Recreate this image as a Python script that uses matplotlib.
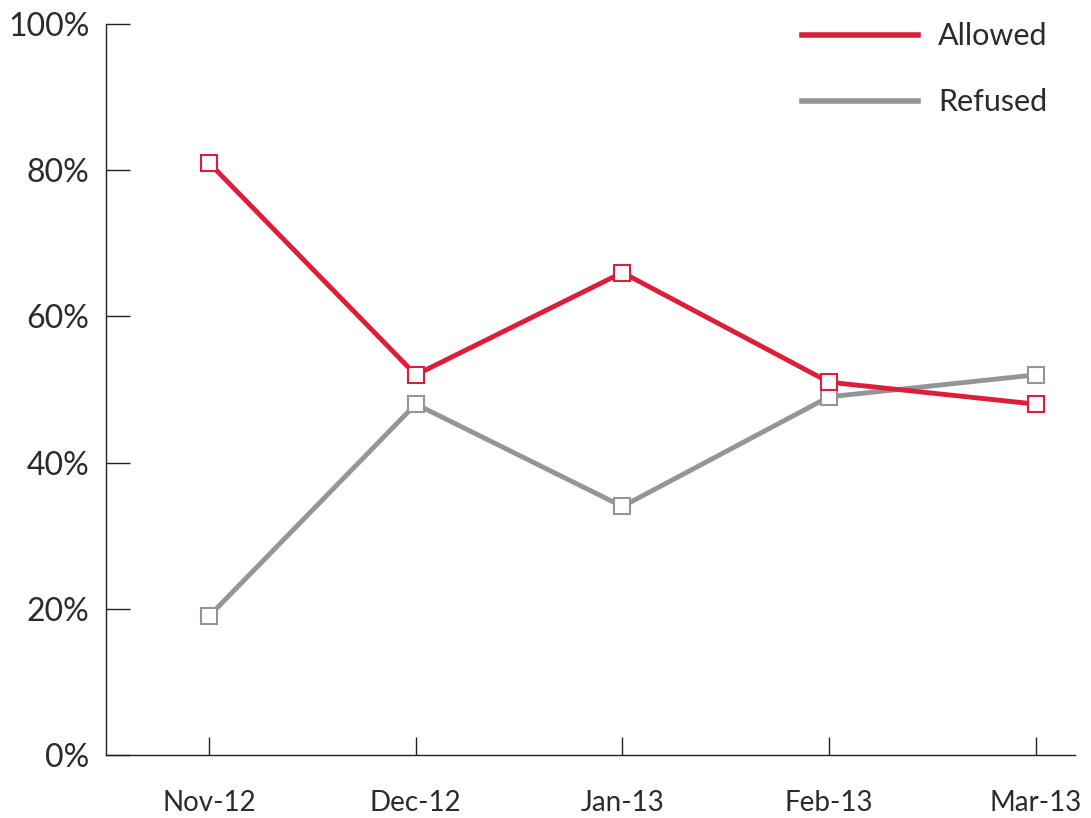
import matplotlib
matplotlib.use("Agg")
import matplotlib.pyplot as plt
from matplotlib.lines import Line2D
from matplotlib.ticker import FuncFormatter

months = ["Nov-12", "Dec-12", "Jan-13", "Feb-13", "Mar-13"]
allowed = [81, 52, 66, 51, 48]
refused = [19, 48, 34, 49, 52]
yticks = [0, 20, 40, 60, 80, 100]

RED = "#DC1E3A"
GRAY = "#939598"
TXT = "#2b2b2b"

plt.rcParams['font.family'] = ['Lato', 'DejaVu Sans']

fig = plt.figure(figsize=(10.91, 8.18), dpi=100)
ax = fig.add_axes([106/1091, 63/818, (1075-106)/1091, (755-24)/818])

x = list(range(len(months)))
ax.plot(x, refused, color=GRAY, lw=3.5, marker='s', ms=12, mfc='white', mec=GRAY, mew=1.5, zorder=3)
ax.plot(x, allowed, color=RED, lw=3.5, marker='s', ms=12, mfc='white', mec=RED, mew=1.5, zorder=4)

ax.set_xlim(-0.499, 4.19)
ax.set_ylim(0, 100)
ax.set_xticks(x)
ax.set_xticklabels(months)
ax.set_yticks(yticks)
ax.yaxis.set_major_formatter(FuncFormatter(lambda v, p: f"{int(v)}%"))

for s in ['top', 'right']:
    ax.spines[s].set_visible(False)
for s in ['left', 'bottom']:
    ax.spines[s].set_color('#222222')
    ax.spines[s].set_linewidth(1.0)

ax.tick_params(axis='y', direction='in', length=17, width=1.0, color='#222222',
               labelsize=23, labelcolor=TXT, pad=12)
ax.tick_params(axis='x', direction='in', length=13, width=1.0, color='#222222',
               labelsize=20, labelcolor=TXT, pad=25)

handles = [Line2D([0], [0], color=RED, lw=4), Line2D([0], [0], color=GRAY, lw=4)]
leg = ax.legend(handles, ["Allowed", "Refused"], loc='upper right',
                bbox_to_anchor=(1.0, 1.04), frameon=False, fontsize=22,
                handlelength=3.8, handletextpad=0.65, labelspacing=1.25)
for t in leg.get_texts():
    t.set_color(TXT)

fig.savefig("out.png", dpi=100)
